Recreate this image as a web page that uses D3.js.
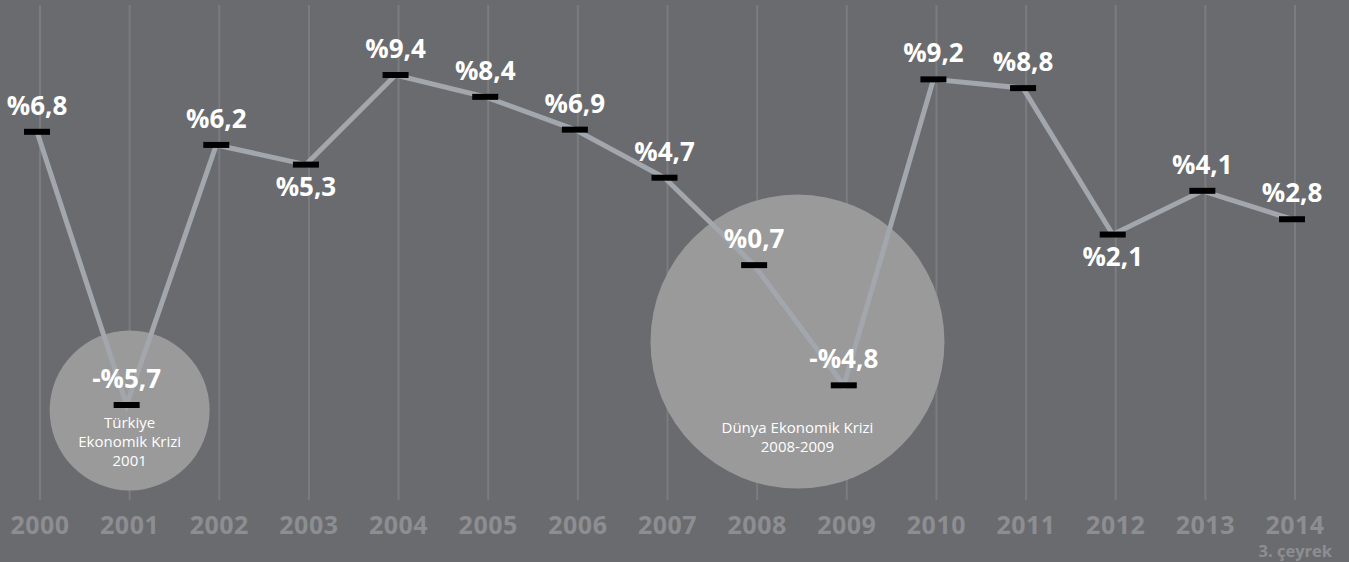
<!DOCTYPE html>
<html>
<head>
<meta charset="utf-8">
<script src="https://cdn.jsdelivr.net/npm/d3@7"></script>
<style>
  html, body { margin: 0; padding: 0; background: #6a6b6f; }
  svg { display: block; }
</style>
</head>
<body>
<svg id="chart" width="1349" height="562"></svg>
<script>
// ---- data ----
const years = [2000, 2001, 2002, 2003, 2004, 2005, 2006, 2007, 2008, 2009, 2010, 2011, 2012, 2013, 2014];
const growth = [6.8, -5.7, 6.2, 5.3, 9.4, 8.4, 6.9, 4.7, 0.7, -4.8, 9.2, 8.8, 2.1, 4.1, 2.8];
const valueLabels = ["%6,8", "-%5,7", "%6,2", "%5,3", "%9,4", "%8,4", "%6,9", "%4,7", "%0,7", "-%4,8", "%9,2", "%8,8", "%2,1", "%4,1", "%2,8"];
const labelSide = ["above", "above", "above", "below", "above", "above", "above", "above", "above", "above", "above", "above", "below", "above", "above"];
const tickLabels = ["2000", "2001", "2002", "2003", "2004", "2005", "2006", "2007", "2008", "2009", "2010", "2011", "2012", "2013", "2014"];
const tickNote = "3. çeyrek";
const crisisYears = [2001, 2008.45];
const crisisLevels = [-5.95, -2.8];
const crisisTexts = [["Türkiye", "Ekonomik Krizi", "2001"], ["Dünya Ekonomik Krizi", "2008-2009"]];

// ---- setup ----
const W = 1349, H = 562;
const svg = d3.select("#chart");
const FONT = "'Open Sans', 'Noto Sans', sans-serif";

const x = d3.scaleLinear().domain([2000, 2014]).range([40, 1295]);
const y = d3.scaleLinear().domain([-5.7, 9.4]).range([405, 75]);
const px = d => x(d) - 3;

svg.append("rect").attr("width", W).attr("height", H).attr("fill", "#6a6b6f");

// grid lines
svg.append("g").selectAll("line").data(years).join("line")
  .attr("x1", d => x(d)).attr("x2", d => x(d))
  .attr("y1", 5).attr("y2", 500)
  .attr("stroke", "#7b7c80").attr("stroke-width", 2);

// crisis circles
const radii = [80, 147];
const crisis = svg.append("g");
crisisYears.forEach((yr, i) => {
  const cx = x(yr), cy = y(crisisLevels[i]);
  crisis.append("circle").attr("cx", cx).attr("cy", cy).attr("r", radii[i]).attr("fill", "#9a9a9b");
});

// line
const lineGen = d3.line().x((d, i) => px(years[i])).y(d => y(d));
svg.append("path").datum(growth)
  .attr("d", lineGen)
  .attr("fill", "none")
  .attr("stroke", "#a2a6ad")
  .attr("stroke-width", 5)
  .attr("stroke-linejoin", "miter");

// markers
svg.append("g").selectAll("rect").data(growth).join("rect")
  .attr("x", (d, i) => px(years[i]) - 13)
  .attr("y", d => y(d) - 3)
  .attr("width", 26).attr("height", 6)
  .attr("fill", "#000");

// crisis texts (one text element per line)
crisisYears.forEach((yr, i) => {
  const cx = x(yr), cy = y(crisisLevels[i]);
  const start = i === 0 ? 18 : 91;
  svg.append("g").selectAll("text").data(crisisTexts[i]).join("text")
    .attr("x", cx)
    .attr("y", (d, j) => cy + start + j * 19)
    .attr("text-anchor", "middle")
    .attr("fill", "#ffffff")
    .attr("font-family", FONT)
    .attr("font-size", 15)
    .attr("font-weight", 500)
    .text(d => d);
});

// value labels
svg.append("g").selectAll("text").data(growth).join("text")
  .attr("x", (d, i) => px(years[i]))
  .attr("y", (d, i) => labelSide[i] === "above" ? y(d) - 17 : y(d) + 31)
  .attr("text-anchor", "middle")
  .attr("fill", "#ffffff")
  .attr("font-family", FONT)
  .attr("font-weight", 700)
  .attr("font-size", 26)
  .text((d, i) => valueLabels[i]);

// x axis labels
svg.append("g").selectAll("text").data(years).join("text")
  .attr("x", d => x(d))
  .attr("y", 534)
  .attr("text-anchor", "middle")
  .attr("fill", "#8d8e91")
  .attr("font-family", FONT)
  .attr("font-weight", 700)
  .attr("font-size", 25)
  .attr("letter-spacing", 0.5)
  .text((d, i) => tickLabels[i]);

svg.append("text")
  .attr("x", 1332).attr("y", 557)
  .attr("text-anchor", "end")
  .attr("fill", "#8d8e91")
  .attr("font-family", FONT)
  .attr("font-weight", 700)
  .attr("font-size", 16.5)
  .text(tickNote);
</script>
</body>
</html>
